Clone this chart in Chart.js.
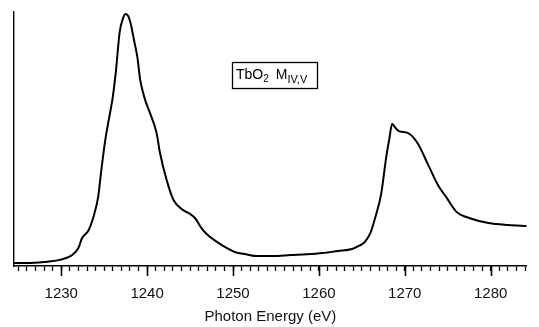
<!DOCTYPE html>
<html>
<head>
<meta charset="utf-8">
<script src="https://cdn.jsdelivr.net/npm/chart.js@4/dist/chart.umd.min.js"></script>
<style>
  html, body { margin: 0; padding: 0; background: #fff; }
  #wrap { width: 539px; height: 327px; }
</style>
</head>
<body>
<div id="wrap"><canvas id="xas"></canvas></div>
<script>
// photon energy (eV)
const energies = [1224.5, 1226, 1228, 1229.8, 1231.25, 1232.0, 1232.4, 1233.2, 1233.75, 1234.3,
  1234.66, 1235.1, 1235.45, 1236.0, 1236.36, 1236.8, 1237.2, 1237.5, 1237.8, 1238.07,
  1238.5, 1238.86, 1239.2, 1239.77, 1240.34, 1241.1, 1241.5, 1242.27, 1243.07, 1244.2,
  1245.0, 1245.57, 1246.48, 1247.3, 1248.3, 1249.2, 1250.2, 1251.5, 1252.8, 1254.7,
  1256.7, 1258.6, 1260.45, 1262.2, 1263.86, 1264.7, 1265.34, 1266.0, 1266.48, 1267.27,
  1267.84, 1268.2, 1268.52, 1268.9, 1269.32, 1270.34, 1271.48, 1272.73, 1273.86, 1274.89,
  1276.02, 1277.5, 1279.77, 1282.05, 1284.2];

// absorption intensity, arbitrary units (peak ~ 100)
const intensity = [1.2, 1.2, 1.6, 2.4, 4.3, 7.1, 10.8, 14.2, 19.3, 27.2,
  37.5, 49.0, 56.0, 66.5, 76.5, 92.0, 97.6, 99.2, 98.4, 95.7,
  88.5, 82.3, 73.2, 65.4, 60.2, 52.4, 44.5, 33.9, 26.0, 22.0,
  20.5, 18.9, 14.2, 11.5, 9.1, 7.2, 5.5, 4.6, 3.9, 3.9,
  4.3, 4.6, 5.1, 5.9, 6.7, 8.0, 9.4, 13.0, 18.1, 28.7,
  42.9, 50.0, 55.9, 54.5, 53.1, 52.4, 48.4, 39.8, 31.9, 26.8,
  21.3, 18.9, 16.9, 16.1, 15.7];

const xRange = [1224.5, 1284.2];
const yRange = [0, 100];
const majorStep = 10;
const axisTitle = 'Photon Energy (eV)';

const points = energies.map((e, i) => ({ x: e, y: intensity[i] }));

// longer ticks at every 10 eV + the TbO2 label box
const extras = {
  id: 'extras',
  afterDraw(chart) {
    const ctx = chart.ctx;
    const xs = chart.scales.x;
    const base = chart.chartArea.bottom;
    ctx.save();
    ctx.strokeStyle = '#000';
    ctx.lineWidth = 1.6;
    for (let v = Math.ceil(xRange[0] / majorStep) * majorStep; v <= xRange[1]; v += majorStep) {
      const px = Math.round(xs.getPixelForValue(v)) + 0.5;
      ctx.beginPath();
      ctx.moveTo(px, base);
      ctx.lineTo(px, base + 10);
      ctx.stroke();
    }

    // label box
    const bx = 232, by = 62, bw = 85, bh = 26;
    ctx.lineWidth = 1.3;
    ctx.strokeRect(bx + 0.5, by + 0.5, bw, bh);
    ctx.fillStyle = '#000';
    ctx.textBaseline = 'alphabetic';
    let tx = bx + 4;
    const ty = by + 17;
    ctx.font = '14px "Liberation Sans", Arial, sans-serif';
    ctx.fillText('TbO', tx, ty);
    tx += ctx.measureText('TbO').width;
    ctx.font = '10px "Liberation Sans", Arial, sans-serif';
    ctx.fillText('2', tx, ty + 3);
    tx += ctx.measureText('2').width + 7;
    ctx.font = '14px "Liberation Sans", Arial, sans-serif';
    ctx.fillText('M', tx, ty);
    tx += ctx.measureText('M').width;
    ctx.font = '11px "Liberation Sans", Arial, sans-serif';
    ctx.fillText('IV,V', tx, ty + 4);
    ctx.restore();
  }
};

new Chart(document.getElementById('xas'), {
  type: 'line',
  data: {
    datasets: [{
      data: points,
      borderColor: '#000',
      borderWidth: 2,
      pointRadius: 0,
      cubicInterpolationMode: 'monotone',
      fill: false
    }]
  },
  options: {
    responsive: true,
    maintainAspectRatio: false,
    animation: false,
    layout: { padding: { left: 14, top: 12, right: 0, bottom: 0 } },
    plugins: { legend: { display: false }, tooltip: { enabled: false } },
    scales: {
      x: {
        type: 'linear',
        min: xRange[0],
        max: xRange[1],
        afterFit: (s) => { s.height = 61; },
        border: { display: true, color: '#000', width: 1.6 },
        grid: { drawOnChartArea: false, drawTicks: true, tickLength: 5, tickColor: '#000', tickWidth: 1.3 },
        ticks: {
          stepSize: 1,
          includeBounds: false,
          autoSkip: false,
          maxRotation: 0,
          padding: 14,
          color: '#111',
          font: { family: '"Liberation Sans", Arial, sans-serif', size: 15 },
          callback: (v) => (Math.abs(v % majorStep) < 1e-6 ? String(v) : '')
        },
        title: {
          display: true,
          text: axisTitle,
          color: '#111',
          font: { family: '"Liberation Sans", Arial, sans-serif', size: 15 },
          padding: { top: 0, bottom: 1 }
        }
      },
      y: {
        min: yRange[0],
        max: yRange[1],
        afterFit: (s) => { s.width = 0; },
        border: { display: true, color: '#000', width: 1.4 },
        grid: { display: false, drawTicks: false },
        ticks: { display: false }
      }
    }
  },
  plugins: [extras]
});
</script>
</body>
</html>
